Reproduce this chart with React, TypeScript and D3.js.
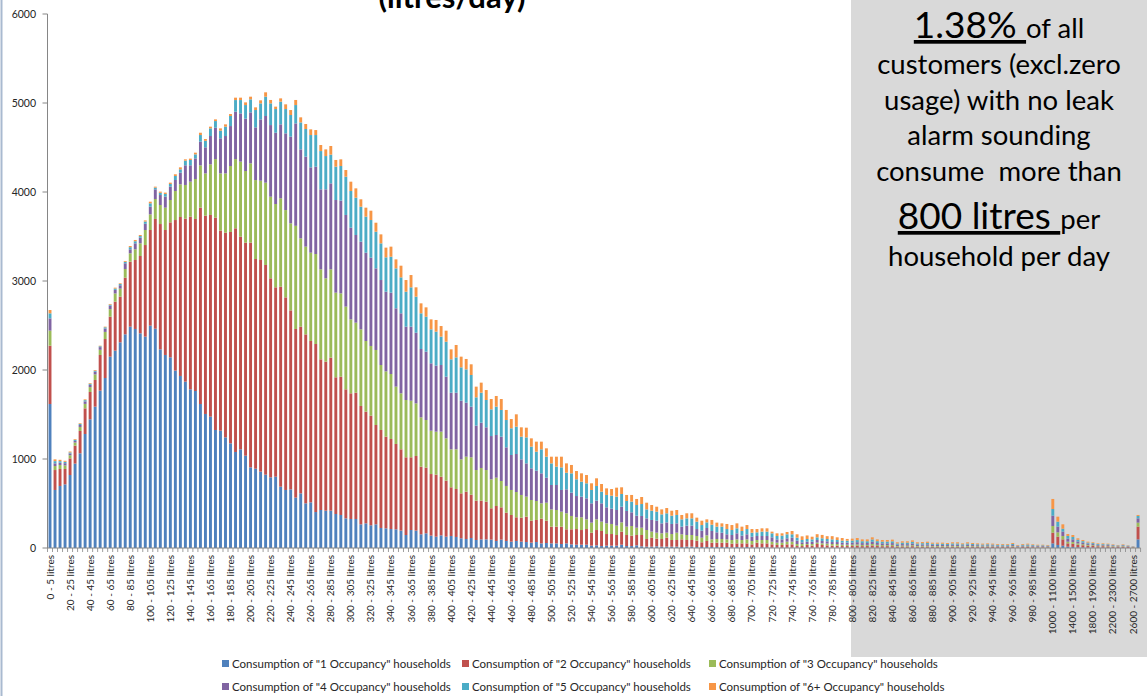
import React from 'react';
import * as d3 from 'd3';

const W = 1147;
const H = 696;
const FONT = "Lato, 'Open Sans', sans-serif";

const seriesNames = [
  'Consumption of "1 Occupancy" households',
  'Consumption of "2 Occupancy" households',
  'Consumption of "3 Occupancy" households',
  'Consumption of "4 Occupancy" households',
  'Consumption of "5 Occupancy" households',
  'Consumption of "6+ Occupancy" households',
];
const seriesColors = ['#4F81BD', '#C0504D', '#9BBB59', '#8064A2', '#4BACC6', '#F79646'];

// categories: 5-litre bins up to 1000, then 100-litre bins
const categories: string[] = [];
for (let i = 0; i < 200; i++) categories.push(`${i * 5} - ${i * 5 + 5} litres`);
for (let k = 0; k < 18; k++) categories.push(`${1000 + k * 100} - ${1100 + k * 100} litres`);

const yTicks = [0, 1000, 2000, 3000, 4000, 5000, 6000];

const occ1 = [
  1618, 652, 697, 715, 820, 948, 1064, 1281, 1446, 1588, 1768, 1910, 2150,
  2217, 2311, 2401, 2487, 2461, 2412, 2375, 2498, 2464, 2232, 2169, 2142, 1993, 1933, 1869, 1783, 1764,
  1618, 1506, 1476, 1326, 1318, 1243, 1176, 1079, 1109, 1037, 906, 891, 858, 824, 794, 801, 689, 652, 659, 566,
  614, 502, 513, 404, 427, 419, 419, 382, 371, 333, 326, 326, 266, 277, 255, 266, 225, 221, 213, 210,
  195, 146, 202, 195, 154, 165, 139, 127, 142, 127, 135, 124, 109, 101, 112, 90, 97, 97, 94, 79,
  94, 79, 71, 79, 71, 67, 60, 67, 52, 56, 52, 52, 45, 52, 41, 37, 37, 37, 26, 30,
  22, 26, 26, 26, 37, 22, 22, 30, 19, 15, 15, 19, 15, 15, 15, 15, 11, 15, 15, 11,
  11, 11, 11, 11, 11, 11, 7, 11, 7, 11, 7, 7, 7, 7, 4, 4, 4, 4, 4, 4,
  4, 4, 4, 4, 4, 4, 4, 4, 4, 4,
  3, 3, 3, 3, 4, 3, 3, 3, 3, 2, 2, 2, 3, 2, 2, 2, 2, 2, 2, 2,
  2, 2, 2, 2, 2, 2, 1, 2, 1, 1, 1, 1, 2, 1, 1, 1, 1, 1, 1, 1,
  52, 34, 26, 15, 12, 8, 7, 5, 5, 4, 4, 4, 3, 3, 3, 2, 2, 97,
];

const occ2 = [
  655, 224, 191, 173, 187, 202, 251, 288, 307, 300, 401, 438, 449,
  551, 513, 636, 730, 775, 869, 1029, 1075, 1233, 1408, 1404, 1517, 1692, 1786, 1831, 1940, 1933,
  2206, 2228, 2266, 2386, 2248, 2300, 2375, 2513, 2389, 2394, 2525, 2356, 2378, 2356, 2236, 2128, 2247, 2164, 2011, 1895,
  1873, 1898, 1813, 1888, 1693, 1675, 1720, 1536, 1554, 1450, 1412, 1419, 1330, 1255, 1232, 1116, 1101, 1030, 1012, 959,
  914, 873, 817, 839, 760, 738, 692, 697, 659, 630, 547, 539, 505, 532, 487, 442, 435, 424, 352, 393,
  363, 318, 300, 266, 270, 285, 247, 248, 278, 251, 188, 188, 195, 158, 169, 176, 165, 176, 146, 172,
  169, 131, 131, 120, 147, 124, 117, 116, 127, 86, 101, 86, 86, 101, 75, 75, 86, 75, 75, 71,
  53, 68, 49, 49, 49, 49, 42, 41, 45, 41, 34, 53, 45, 45, 37, 30, 30, 37, 37, 18,
  18, 30, 22, 41, 30, 26, 22, 22, 18, 18,
  20, 22, 18, 19, 24, 19, 17, 18, 18, 12, 15, 14, 17, 12, 13, 14, 12, 11, 12, 11,
  13, 12, 10, 12, 11, 10, 10, 10, 10, 9, 9, 9, 11, 7, 9, 10, 8, 7, 7, 7,
  120, 93, 71, 37, 35, 28, 24, 20, 18, 15, 16, 14, 12, 10, 12, 9, 6, 143,
];

const occ3 = [
  169, 45, 45, 40, 35, 35, 45, 50, 55, 62, 58, 80, 85,
  92, 90, 98, 94, 120, 142, 169, 176, 224, 214, 251, 251, 326, 367, 379, 393, 449,
  475, 475, 569, 658, 643, 666, 741, 778, 843, 805, 891, 887, 891, 925, 917, 936, 993, 981, 978, 1159,
  992, 986, 992, 1011, 1011, 936, 992, 951, 936, 929, 831, 787, 861, 794, 783, 843, 730, 734, 730, 644,
  629, 644, 636, 591, 554, 535, 487, 483, 506, 475, 427, 446, 382, 393, 420, 344, 367, 355, 326, 318,
  296, 300, 281, 284, 255, 225, 232, 213, 172, 202, 194, 187, 168, 180, 150, 132, 143, 109, 113, 120,
  105, 120, 113, 105, 104, 94, 108, 82, 82, 101, 68, 67, 64, 56, 67, 82, 57, 56, 56, 53,
  52, 63, 37, 41, 41, 37, 41, 45, 38, 45, 38, 30, 38, 38, 30, 26, 26, 30, 30, 23,
  23, 11, 19, 15, 18, 19, 19, 19, 15, 15,
  15, 16, 14, 13, 17, 14, 13, 12, 14, 9, 11, 11, 12, 9, 10, 10, 8, 9, 8, 8,
  9, 9, 7, 9, 8, 8, 7, 7, 7, 6, 7, 6, 8, 5, 6, 7, 6, 5, 6, 5,
  75, 49, 38, 19, 20, 15, 12, 10, 9, 7, 7, 7, 6, 5, 6, 4, 3, 45,
];

const occ4 = [
  138, 30, 25, 25, 20, 18, 22, 28, 25, 30, 30, 38, 38,
  40, 38, 64, 45, 67, 64, 70, 86, 109, 112, 124, 150, 124, 131, 221, 184, 232,
  266, 293, 318, 352, 394, 420, 449, 532, 542, 588, 573, 592, 689, 749, 805, 801, 831, 862, 974, 1151,
  1000, 1011, 959, 981, 899, 1000, 966, 1041, 1042, 1030, 1030, 985, 985, 992, 992, 917, 955, 895, 914, 880,
  899, 824, 832, 794, 768, 768, 757, 742, 749, 693, 636, 636, 659, 607, 569, 499, 509, 480, 486, 480,
  498, 434, 393, 427, 400, 374, 356, 341, 337, 281, 274, 281, 244, 269, 262, 239, 232, 236, 217, 210,
  206, 180, 172, 176, 176, 176, 154, 135, 132, 131, 131, 135, 112, 116, 113, 105, 86, 105, 105, 78,
  79, 83, 94, 75, 71, 57, 56, 68, 49, 57, 48, 45, 45, 45, 49, 37, 37, 38, 45, 37,
  19, 26, 26, 30, 27, 26, 22, 22, 23, 23,
  22, 24, 20, 21, 25, 20, 19, 19, 20, 14, 16, 16, 18, 14, 14, 15, 13, 13, 12, 12,
  13, 14, 11, 14, 12, 11, 10, 11, 11, 10, 9, 10, 12, 7, 10, 10, 9, 8, 8, 7,
  116, 64, 49, 34, 30, 22, 18, 14, 12, 10, 9, 9, 8, 6, 8, 6, 3, 48,
];

const occ5 = [
  57, 25, 18, 15, 12, 12, 12, 14, 12, 12, 10, 14, 12,
  15, 14, 16, 24, 24, 18, 25, 38, 19, 25, 30, 30, 45, 38, 52, 60, 45,
  75, 73, 86, 75, 86, 105, 113, 131, 150, 153, 146, 195, 180, 217, 244, 266, 255, 273, 243, 206,
  303, 311, 363, 356, 430, 374, 323, 375, 389, 430, 412, 419, 393, 405, 423, 412, 412, 386, 404, 449,
  404, 393, 442, 405, 401, 393, 382, 382, 319, 393, 375, 397, 375, 374, 356, 318, 337, 307, 300, 318,
  300, 307, 300, 307, 255, 292, 244, 213, 270, 236, 243, 206, 254, 187, 217, 188, 168, 169, 150, 165,
  131, 139, 146, 150, 143, 112, 120, 120, 134, 101, 104, 101, 101, 102, 93, 94, 82, 82, 82, 83,
  63, 63, 71, 64, 68, 59, 56, 56, 52, 59, 45, 41, 49, 49, 45, 38, 42, 45, 38, 34,
  26, 30, 26, 30, 30, 26, 30, 23, 22, 22,
  23, 24, 21, 20, 26, 21, 19, 20, 20, 14, 16, 17, 19, 14, 15, 16, 13, 13, 14, 12,
  14, 14, 12, 14, 12, 11, 11, 12, 10, 10, 10, 10, 12, 7, 10, 11, 9, 8, 8, 7,
  75, 56, 33, 30, 27, 20, 16, 12, 11, 9, 8, 8, 6, 5, 6, 5, 3, 27,
];

const occ6 = [
  37, 20, 15, 12, 10, 8, 8, 9, 8, 8, 6, 7, 8,
  10, 8, 10, 13, 14, 12, 13, 18, 11, 13, 15, 15, 19, 22, 15, 15, 19,
  26, 20, 19, 19, 26, 26, 22, 27, 27, 30, 30, 30, 34, 49, 38, 27, 37, 53, 56, 57,
  57, 56, 64, 56, 68, 75, 97, 75, 75, 75, 105, 105, 83, 101, 105, 101, 101, 109, 113, 101,
  131, 131, 138, 105, 112, 105, 112, 131, 119, 124, 112, 139, 120, 117, 120, 120, 113, 112, 116, 120,
  123, 113, 104, 139, 105, 109, 93, 113, 86, 94, 75, 112, 120, 105, 94, 93, 94, 93, 75, 86,
  86, 74, 75, 101, 75, 68, 75, 68, 79, 75, 64, 56, 56, 59, 56, 56, 49, 57, 57, 45,
  49, 34, 53, 45, 37, 57, 56, 56, 49, 45, 41, 37, 37, 37, 19, 30, 26, 26, 37, 38,
  41, 40, 30, 35, 38, 32, 36, 30, 30, 20,
  22, 23, 21, 21, 24, 20, 19, 18, 19, 13, 15, 15, 17, 13, 13, 14, 12, 12, 12, 11,
  13, 13, 10, 13, 11, 10, 10, 10, 10, 9, 9, 9, 11, 7, 9, 10, 8, 8, 7, 7,
  113, 56, 49, 22, 22, 16, 13, 10, 9, 7, 8, 7, 6, 5, 6, 4, 2, 11,
];

const seriesValues = [occ1, occ2, occ3, occ4, occ5, occ6];
const keys = ['s0', 's1', 's2', 's3', 's4', 's5'];

export default function App() {
  const plotLeft = 47.5;
  const step = 5.014;
  const plotRight = plotLeft + step * categories.length;
  const baseY = 548;
  const topY = 14;

  const x = d3
    .scaleBand<string>()
    .domain(categories)
    .range([plotLeft, plotRight])
    .paddingInner(0.42)
    .paddingOuter(0.21);
  const y = d3.scaleLinear().domain([0, 6000]).range([baseY, topY]);

  const rows = categories.map((c, i) => {
    const r: any = { cat: c };
    keys.forEach((k, j) => (r[k] = seriesValues[j][i] ?? 0));
    return r;
  });
  const stacked = d3.stack<any>().keys(keys)(rows);

  const bw = x.bandwidth();
  const realStep = x.step();

  const legendX = [222, 462, 709];
  const legendY = [664, 687];
  const small = 27.5;
  const big = 37;

  return (
    <svg
      width={W}
      height={H}
      viewBox={`0 0 ${W} ${H}`}
      style={{ position: 'absolute', left: 0, top: 0, background: '#fff', fontFamily: FONT }}
    >
      <rect x={0} y={0} width={W} height={H} fill="#ffffff" />
      {/* grey annotation panel */}
      <rect x={851} y={0} width={W - 851} height={657} fill="#D9D9D9" />
      {/* left chart border */}
      <line x1={1.5} y1={0} x2={1.5} y2={H} stroke="#A9BAD0" strokeWidth={2} />

      {/* title (partly off-canvas, as in the source) */}
      <text x={452} y={8} textAnchor="middle" fontSize={31} fontWeight={700} fill="#000">
        (litres/day)
      </text>

      {/* bars */}
      {stacked.map((layer, li) => (
        <g key={li} fill={seriesColors[li]}>
          {layer.map((d, i) => {
            const y1 = y(d[1]);
            const y0 = y(d[0]);
            const h = y0 - y1;
            if (h <= 0) return null;
            return (
              <rect key={i} x={x(categories[i]) as number} y={y1} width={bw} height={h} />
            );
          })}
        </g>
      ))}

      {/* y axis */}
      <line x1={plotLeft} y1={topY} x2={plotLeft} y2={baseY} stroke="#868686" strokeWidth={1} />
      {yTicks.map((t) => (
        <g key={t}>
          <line x1={plotLeft - 5} x2={plotLeft} y1={y(t)} y2={y(t)} stroke="#868686" strokeWidth={1} />
          <text x={36} y={y(t)} dy="0.35em" textAnchor="end" fontSize={10.5} fill="#262626">
            {t}
          </text>
        </g>
      ))}

      {/* x axis */}
      <line x1={plotLeft} y1={baseY} x2={plotRight} y2={baseY} stroke="#868686" strokeWidth={1} />
      {d3.range(categories.length + 1).map((k) => (
        <line
          key={k}
          x1={plotLeft + k * realStep}
          x2={plotLeft + k * realStep}
          y1={baseY}
          y2={baseY + 4}
          stroke="#868686"
          strokeWidth={0.8}
        />
      ))}
      {categories.map((c, i) =>
        i % 4 === 0 ? (
          <text
            key={c}
            transform={`translate(${(x(c) as number) + bw / 2},${baseY + 7}) rotate(-90)`}
            textAnchor="end"
            dy="0.35em"
            fontSize={10}
            fill="#262626"
          >
            {c}
          </text>
        ) : null
      )}

      {/* annotation text */}
      <g fill="#000" textAnchor="middle">
        <text x={999} y={38}>
          <tspan fontSize={big} textDecoration="underline">1.38% </tspan>
          <tspan fontSize={small}>of all</tspan>
        </text>
        <text x={999} y={74} fontSize={small}>customers (excl.zero</text>
        <text x={999} y={110} fontSize={small}>usage) with no leak</text>
        <text x={999} y={145} fontSize={small}>alarm sounding</text>
        <text x={999} y={181} fontSize={small} style={{ whiteSpace: 'pre' }}>consume  more than</text>
        <text x={999} y={229}>
          <tspan fontSize={big} textDecoration="underline">800 litres </tspan>
          <tspan fontSize={small}>per</tspan>
        </text>
        <text x={999} y={266} fontSize={small}>household per day</text>
      </g>

      {/* legend */}
      {seriesNames.map((n, i) => {
        const lx = legendX[i % 3];
        const ly = legendY[Math.floor(i / 3)];
        return (
          <g key={n}>
            <rect x={lx} y={ly - 4} width={7} height={7} fill={seriesColors[i]} />
            <text x={lx + 10} y={ly} dy="0.35em" fontSize={11.5} fill="#262626">
              {n}
            </text>
          </g>
        );
      })}
    </svg>
  );
}
